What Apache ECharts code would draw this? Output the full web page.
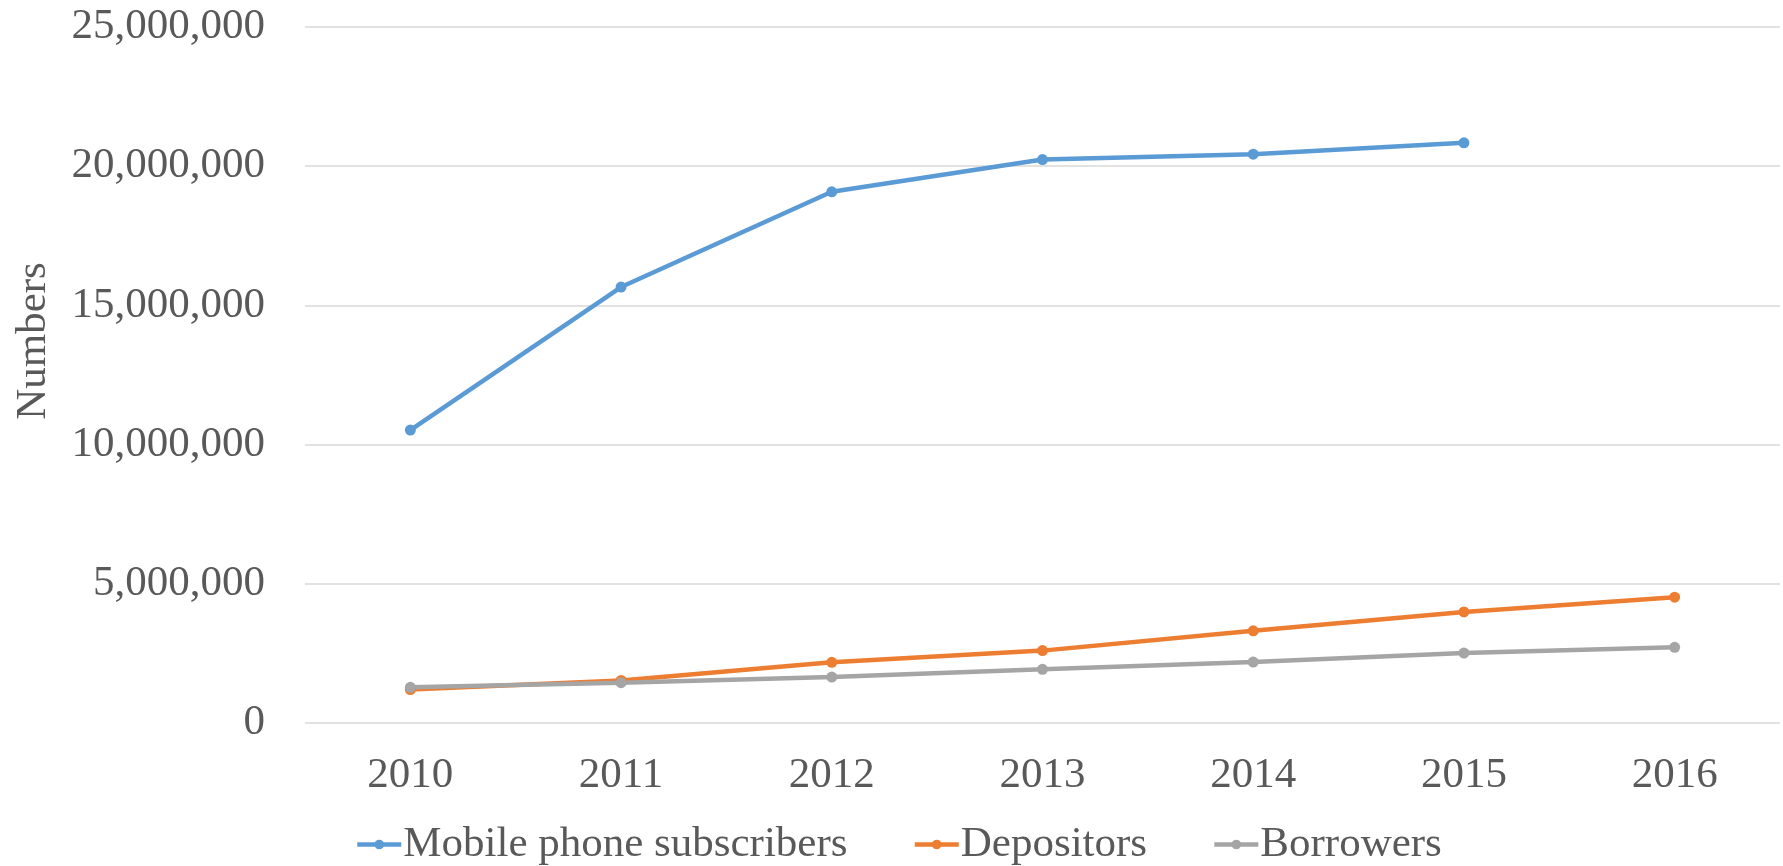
<!DOCTYPE html>
<html>
<head>
<meta charset="utf-8">
<script src="https://cdn.jsdelivr.net/npm/echarts@6/dist/echarts.min.js"></script>
<style>
  html, body { margin: 0; padding: 0; background: #fff; }
  #chart { width: 1783px; height: 866px; }
</style>
</head>
<body>
<div id="chart"></div>
<script>
// data
const years = ['2010', '2011', '2012', '2013', '2014', '2015', '2016'];
const mobileSubscribers = [10520000, 15660000, 19080000, 20240000, 20430000, 20840000, null];
const depositors = [1200000, 1530000, 2180000, 2600000, 3310000, 3990000, 4520000];
const borrowers = [1280000, 1450000, 1650000, 1930000, 2190000, 2510000, 2720000];

const FONT = '"Liberation Serif", "Times New Roman", serif';
const TEXT = '#595959';

const chart = echarts.init(document.getElementById('chart'));

function lineSeries(name, data, color) {
  return {
    name: name,
    type: 'line',
    data: data,
    symbol: 'circle',
    symbolSize: 11,
    lineStyle: { width: 4.5, color: color },
    itemStyle: { color: color },
    emphasis: { disabled: true }
  };
}

chart.setOption({
  animation: false,
  grid: { left: 305, right: 3, top: 27, bottom: 143 },
  legend: {
    left: 350,
    top: 818,
    itemWidth: 44,
    itemHeight: 12,
    itemGap: 65,
    lineStyle: { width: 4.5 },
    textStyle: { fontFamily: FONT, fontSize: 43, color: TEXT, padding: [0, 0, 0, -3] },
    data: ['Mobile phone subscribers', 'Depositors', 'Borrowers']
  },
  xAxis: {
    type: 'category',
    data: years,
    boundaryGap: true,
    axisLine: { show: false },
    axisTick: { show: false },
    axisLabel: { fontFamily: FONT, fontSize: 43, color: TEXT, margin: 31 }
  },
  yAxis: {
    type: 'value',
    min: 0,
    max: 25000000,
    interval: 5000000,
    axisLine: { show: false },
    axisTick: { show: false },
    splitLine: { lineStyle: { color: '#d9d9d9', width: 1.5 } },
    axisLabel: {
      fontFamily: FONT, fontSize: 43, color: TEXT, margin: 40,
      formatter: v => v.toLocaleString('en-US')
    }
  },
  graphic: [{
    type: 'text',
    x: 34,
    y: 341,
    rotation: Math.PI / 2,
    style: {
      text: 'Numbers',
      fontFamily: FONT,
      fontSize: 43,
      fill: TEXT,
      align: 'center',
      verticalAlign: 'middle'
    }
  }],
  series: [
    lineSeries('Mobile phone subscribers', mobileSubscribers, '#5b9bd5'),
    lineSeries('Depositors', depositors, '#ed7d31'),
    lineSeries('Borrowers', borrowers, '#a5a5a5')
  ]
});
</script>
</body>
</html>
